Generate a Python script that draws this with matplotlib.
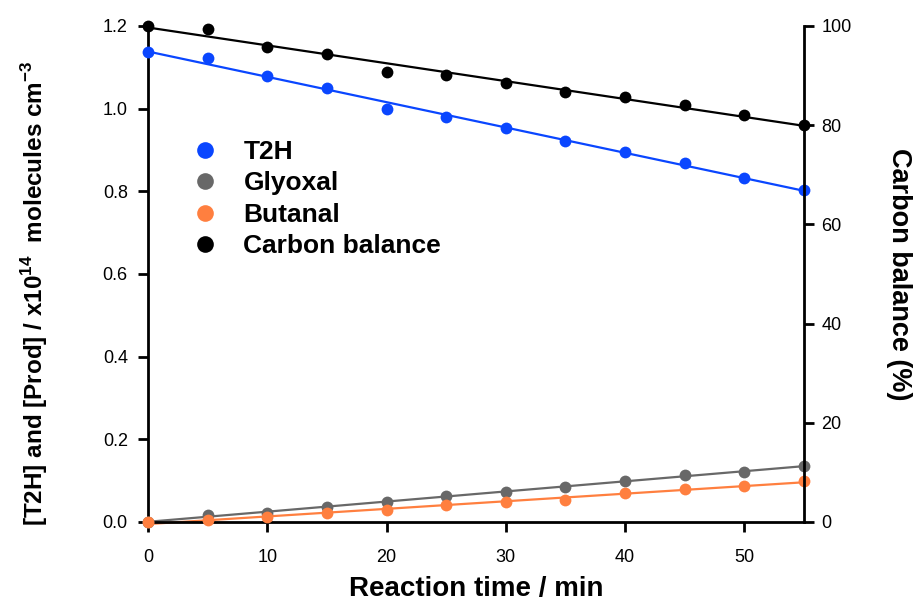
import numpy as np
import matplotlib
matplotlib.use("Agg")
import matplotlib.pyplot as plt
from matplotlib.lines import Line2D

plt.rcParams['font.family'] = ['Liberation Sans', 'DejaVu Sans']
plt.rcParams['mathtext.fontset'] = 'custom'
plt.rcParams['mathtext.rm'] = 'Liberation Sans'
plt.rcParams['mathtext.bf'] = 'Liberation Sans:bold'

# data
time_min = [0, 5, 10, 15, 20, 25, 30, 35, 40, 45, 50, 55]
t2h = [1.136, 1.122, 1.078, 1.049, 0.998, 0.980, 0.954, 0.922, 0.894, 0.868, 0.833, 0.803]
glyoxal = [0.0, 0.016, 0.022, 0.037, 0.049, 0.064, 0.073, 0.084, 0.099, 0.113, 0.122, 0.135]
butanal = [0.0, 0.005, 0.012, 0.022, 0.030, 0.040, 0.048, 0.054, 0.069, 0.080, 0.088, 0.099]
carbon_balance = [100.0, 99.3, 95.8, 94.4, 90.8, 90.1, 88.6, 86.7, 85.6, 84.1, 82.0, 80.0]

c_t2h = '#0a46ff'
c_gly = '#686868'
c_but = '#ff7f3f'
c_cb = '#000000'

fig = plt.figure(figsize=(9.16, 6.04), dpi=100)
ax = fig.add_axes([148/916, 82/604, 656/916, 496/604])
ax2 = ax.twinx()

t = np.array(time_min)
tt = np.linspace(0, 55, 50)

def fit_and_plot(axis, y, color):
    p = np.polyfit(t, y, 1)
    axis.plot(tt, np.polyval(p, tt), color=color, lw=1.6, zorder=2, clip_on=False)
    axis.plot(t, y, 'o', color=color, ms=8.5, mec='none', zorder=3, clip_on=False)

fit_and_plot(ax, t2h, c_t2h)
fit_and_plot(ax, glyoxal, c_gly)
fit_and_plot(ax, butanal, c_but)
fit_and_plot(ax2, carbon_balance, c_cb)

ax.set_xlim(0, 55)
ax.set_ylim(0, 1.2)
ax2.set_ylim(0, 100)
ax.set_xticks([0, 10, 20, 30, 40, 50])
ax.set_yticks([0.0, 0.2, 0.4, 0.6, 0.8, 1.0, 1.2])
ax.set_yticklabels(['0.0', '0.2', '0.4', '0.6', '0.8', '1.0', '1.2'])
ax2.set_yticks([0, 20, 40, 60, 80, 100])

for a in (ax, ax2):
    a.spines['top'].set_visible(False)
    for s in a.spines.values():
        s.set_linewidth(2.0)
    a.tick_params(width=2.0, length=7.5, labelsize=13, colors='black', pad=5)
ax.tick_params(axis='x', pad=12)
ax.tick_params(axis='y', pad=7)
ax.spines['right'].set_visible(False)
ax2.spines['left'].set_visible(False)
ax2.spines['bottom'].set_visible(False)

ax.set_xlabel('Reaction time / min', fontsize=20, fontweight='bold')
ax.xaxis.set_label_coords(0.5, -0.108)
ax.set_ylabel(r'[T2H] and [Prod] / x10$^{\mathbf{14}}$  molecules cm$^{\mathbf{-3}}$',
              fontsize=17.5, fontweight='bold')
ax.yaxis.set_label_coords(-0.150, 0.46)
ax2.set_ylabel('Carbon balance (%)', fontsize=19.5, fontweight='bold', rotation=270)
ax2.yaxis.set_label_coords(1.165, 0.5)

handles = [Line2D([], [], ls='none', marker='o', ms=12, color=c, mec='none')
           for c in (c_t2h, c_gly, c_but, c_cb)]
ax.legend(handles, ['T2H', 'Glyoxal', 'Butanal', 'Carbon balance'],
          loc='upper left', bbox_to_anchor=(0.067, 0.77), frameon=False,
          prop={'size': 19, 'weight': 'bold'}, handletextpad=0.95,
          labelspacing=0.28, handlelength=1.0, borderpad=0, borderaxespad=0)

fig.savefig('out.png', dpi=100)
